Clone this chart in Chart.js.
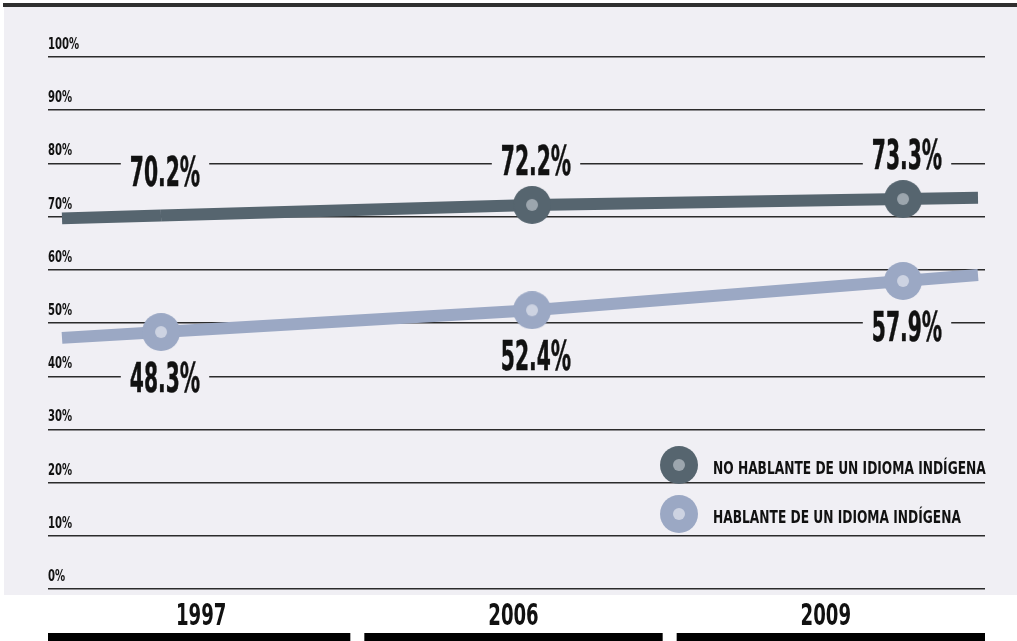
<!DOCTYPE html>
<html>
<head>
<meta charset="utf-8">
<script src="https://cdn.jsdelivr.net/npm/chart.js@4.4.0/dist/chart.umd.min.js"></script>
<style>
  html, body { margin: 0; padding: 0; background: #ffffff; }
  #wrap { width: 1017px; height: 641px; }
</style>
</head>
<body>
<div id="wrap"><canvas id="c" width="1017" height="641"></canvas></div>
<script>
// ---- data ----
const categories = ['1997', '2006', '2009'];
const noHablante = [70.2, 72.2, 73.3];
const hablante = [48.3, 52.4, 57.9];
const seriesNames = ['NO HABLANTE DE UN IDIOMA INDÍGENA', 'HABLANTE DE UN IDIOMA INDÍGENA'];
const yTickValues = [0, 10, 20, 30, 40, 50, 60, 70, 80, 90, 100];

// ---- styles ----
const BG = '#f0eff4';
const DARK = '#56656f', DARK_IN = '#9ca6ae';
const LIGHT = '#9ba8c4', LIGHT_IN = '#cdd3e2';
const INK = '#111111';
const FONT = '"DejaVu Sans Condensed", "DejaVu Sans", sans-serif';

function marker(outer, inner) {
  const R = 19, r = 6;
  const c = document.createElement('canvas');
  c.width = c.height = 2 * R;
  const g = c.getContext('2d');
  g.fillStyle = outer; g.beginPath(); g.arc(R, R, R, 0, Math.PI * 2); g.fill();
  g.fillStyle = inner; g.beginPath(); g.arc(R, R, r, 0, Math.PI * 2); g.fill();
  return c;
}
const markDark = marker(DARK, DARK_IN);
const markLight = marker(LIGHT, LIGHT_IN);

function condText(ctx, text, x, y, size, sx, align, color, stroke) {
  ctx.save();
  ctx.font = 'bold ' + size + 'px ' + FONT;
  const w = ctx.measureText(text).width * sx;
  const x0 = align === 'center' ? x - w / 2 : (align === 'right' ? x - w : x);
  ctx.translate(x0, y);
  ctx.scale(sx, 1);
  ctx.textAlign = 'left';
  ctx.textBaseline = 'alphabetic';
  ctx.fillStyle = color;
  ctx.fillText(text, 0, 0);
  if (stroke) {
    ctx.strokeStyle = color; ctx.lineWidth = stroke; ctx.lineJoin = 'round';
    ctx.strokeText(text, 0, 0);
  }
  ctx.restore();
  return w;
}

const decor = {
  id: 'decor',
  beforeDraw(chart) {
    const ctx = chart.ctx;
    ctx.save();
    ctx.fillStyle = '#ffffff';
    ctx.fillRect(0, 0, chart.width, chart.height);
    ctx.fillStyle = BG;
    ctx.fillRect(4, 7, chart.width - 4, 588);
    ctx.fillStyle = '#2f2f2f';
    ctx.fillRect(3, 3, chart.width - 3, 4);
    ctx.restore();
  }
};

const extendLines = {
  id: 'extendLines',
  beforeDatasetsDraw(chart) {
    const ctx = chart.ctx, area = chart.chartArea;
    chart.data.datasets.forEach((ds, di) => {
      const pts = chart.getDatasetMeta(di).data;
      if (pts.length < 2) return;
      const a = pts[0], b = pts[1];
      const c = pts[pts.length - 2], d = pts[pts.length - 1];
      const s1 = (b.y - a.y) / (b.x - a.x);
      const s2 = (d.y - c.y) / (d.x - c.x);
      const xl = area.left + 14, xr = area.right - 7;
      ctx.save();
      ctx.strokeStyle = ds.borderColor;
      ctx.lineWidth = ds.borderWidth;
      ctx.lineCap = 'butt';
      ctx.beginPath();
      ctx.moveTo(xl, a.y + (xl - a.x) * s1);
      ctx.lineTo(a.x, a.y);
      ctx.stroke();
      ctx.beginPath();
      ctx.moveTo(d.x, d.y);
      ctx.lineTo(xr, d.y + (xr - d.x) * s2);
      ctx.stroke();
      ctx.restore();
    });
  }
};

const texts = {
  id: 'texts',
  afterDatasetsDraw(chart) {
    const ctx = chart.ctx, area = chart.chartArea;
    const yS = chart.scales.y, x2 = chart.scales.x2;

    // y tick labels above gridlines
    yS.ticks.forEach(t => {
      condText(ctx, t.value + '%', area.left, yS.getPixelForValue(t.value) - 8, 16.5, 0.68, 'left', INK);
    });

    // value labels
    chart.data.datasets.forEach((ds, di) => {
      const meta = chart.getDatasetMeta(di);
      meta.data.forEach((el, i) => {
        const txt = ds.data[i].y.toFixed(1) + '%';
        const size = 41, sx = 0.55;
        ctx.save();
        ctx.font = 'bold ' + size + 'px ' + FONT;
        const w = ctx.measureText(txt).width * sx;
        ctx.restore();
        const by = el.y + ds.labelDy;
        const cx = el.x + 4;
        ctx.save();
        ctx.fillStyle = BG;
        ctx.fillRect(cx - w / 2 - 9, by - 32, w + 18, 34);
        ctx.restore();
        condText(ctx, txt, cx, by, size, sx, 'center', INK, 0.5);
      });
    });

    // legend
    chart.data.datasets.forEach((ds, di) => {
      const my = area.bottom - 124 + di * 49;
      const mx = area.right - 306;
      const img = ds.pointStyle;
      ctx.drawImage(img, mx - img.width / 2, my - img.height / 2);
      condText(ctx, ds.label, area.right - 272, my + 9, 17, 0.8, 'left', INK);
    });

    // category labels and bars
    const n = x2.ticks.length;
    const hw = (x2.right - x2.left) / n / 2;
    x2.ticks.forEach((t, i) => {
      const cx = x2.getPixelForValue(i) - 3;
      condText(ctx, categories[i], cx, 625, 31, 0.65, 'center', INK);
      const l = cx - hw + (i > 0 ? 7 : 0);
      const r = cx + hw - (i < n - 1 ? 7 : 0);
      ctx.save();
      ctx.fillStyle = '#000000';
      ctx.fillRect(i === 0 ? area.left : l, 633, (i === n - 1 ? area.right : r) - (i === 0 ? area.left : l), 8);
      ctx.restore();
    });
  }
};

const chart = new Chart(document.getElementById('c'), {
  type: 'line',
  data: {
    labels: categories,
    datasets: [
      {
        label: seriesNames[0],
        data: noHablante.map((v, i) => ({ x: i, y: v })),
        borderColor: DARK,
        backgroundColor: DARK,
        borderWidth: 12,
        borderCapStyle: 'butt',
        pointStyle: markDark,
        pointRadius: [0, 19, 19],
        pointHoverRadius: [0, 19, 19],
        tension: 0,
        fill: false,
        labelDy: -30
      },
      {
        label: seriesNames[1],
        data: hablante.map((v, i) => ({ x: i, y: v })),
        borderColor: LIGHT,
        backgroundColor: LIGHT,
        borderWidth: 12,
        borderCapStyle: 'butt',
        pointStyle: markLight,
        pointRadius: 19,
        pointHoverRadius: 19,
        tension: 0,
        fill: false,
        labelDy: 60
      }
    ]
  },
  options: {
    responsive: false,
    animation: false,
    layout: { padding: { left: 48, right: 32, top: 57, bottom: 52 } },
    plugins: { legend: { display: false }, tooltip: { enabled: false } },
    scales: {
      x: {
        type: 'linear',
        display: false,
        min: -0.3046,
        max: 2.221
      },
      x2: {
        type: 'category',
        labels: categories,
        offset: true,
        display: false
      },
      y: {
        type: 'linear',
        min: 0,
        max: 100,
        afterBuildTicks: s => { s.ticks = yTickValues.map(v => ({ value: v })); },
        border: { display: false },
        grid: { color: '#2b2b2b', lineWidth: 1.4, drawTicks: false },
        ticks: { display: false }
      }
    }
  },
  plugins: [decor, extendLines, texts]
});
</script>
</body>
</html>
